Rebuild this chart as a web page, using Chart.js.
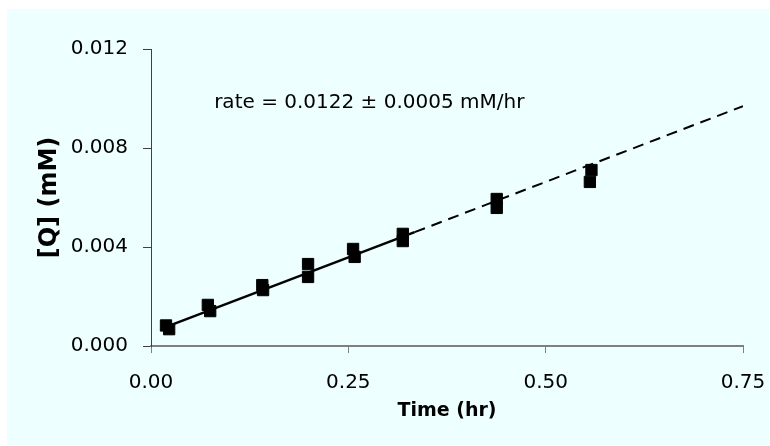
<!DOCTYPE html>
<html>
<head>
<meta charset="utf-8">
<script src="https://cdn.jsdelivr.net/npm/chart.js@4/dist/chart.umd.min.js"></script>
<style>
  html, body { margin: 0; padding: 0; background: #ffffff; }
  #bg { position: absolute; left: 7px; top: 9px; width: 763px; height: 437px; background: #eeffff; }
  #c { position: absolute; left: 0; top: 0; }
</style>
</head>
<body>
<div id="bg"></div>
<canvas id="c" width="770" height="446"></canvas>
<script>
// Replicate A (upper markers) and replicate B (lower markers)
const timesA  = [0.019, 0.072, 0.141, 0.199, 0.256, 0.319, 0.438, 0.558];
const valuesA = [0.00083, 0.00166, 0.00246, 0.00331, 0.00392, 0.00453, 0.00594, 0.00711];
const timesB  = [0.023, 0.075, 0.142, 0.199, 0.258, 0.319, 0.438, 0.556];
const valuesB = [0.00068, 0.00141, 0.00226, 0.00279, 0.00360, 0.00424, 0.00558, 0.00663];

// Fitted rate line (solid over fitted range, dashed extension)
const fitX = [0.02, 0.334];
const fitY = [0.00078, 0.00460];
const extX = [0.334, 0.75];
const extY = [0.00460, 0.00969];

const xTicks = [0, 0.25, 0.5, 0.75];
const yTicks = [0, 0.004, 0.008, 0.012];

const annotationText = 'rate = 0.0122 \u00b1 0.0005 mM/hr';
const annotationAt = [0.08, 0.00962];

const toPts = (xs, ys) => xs.map((x, i) => ({x: x, y: ys[i]}));

const annotate = {
  id: 'annotate',
  afterDatasetsDraw(chart) {
    const {ctx, scales: {x, y}} = chart;
    ctx.save();
    ctx.font = '20px "DejaVu Sans"';
    ctx.fillStyle = '#000';
    ctx.textAlign = 'left';
    ctx.textBaseline = 'alphabetic';
    ctx.fillText(annotationText, x.getPixelForValue(annotationAt[0]), y.getPixelForValue(annotationAt[1]));
    ctx.restore();
  }
};

new Chart(document.getElementById('c'), {
  type: 'scatter',
  data: {
    datasets: [
      { data: toPts(fitX, fitY), showLine: true, borderColor: '#000', borderWidth: 2.5, pointRadius: 0, pointHoverRadius: 0 },
      { data: toPts(extX, extY), showLine: true, borderColor: '#000', borderWidth: 2, borderDash: [11, 7], pointRadius: 0, pointHoverRadius: 0 },
      { data: toPts(timesA, valuesA), pointStyle: 'rect', pointRadius: 8, backgroundColor: '#000', borderColor: '#000', borderWidth: 1 },
      { data: toPts(timesB, valuesB), pointStyle: 'rect', pointRadius: 8, backgroundColor: '#000', borderColor: '#000', borderWidth: 1 }
    ]
  },
  options: {
    responsive: false,
    animation: false,
    devicePixelRatio: 1,
    plugins: { legend: { display: false }, tooltip: { enabled: false } },
    layout: { padding: { left: 0, right: 27, top: 49, bottom: 0 } },
    scales: {
      x: {
        type: 'linear', min: 0, max: 0.75,
        afterBuildTicks: (s) => { s.ticks = xTicks.map(v => ({value: v})); },
        afterFit: (s) => { s.height = 100; s.paddingLeft = 0; s.paddingRight = 0; },
        ticks: { color: '#000', font: { family: 'DejaVu Sans', size: 20 }, padding: 18, maxRotation: 0,
                 callback: (v) => Number(v).toFixed(2) },
        grid: { drawOnChartArea: false, drawTicks: true, tickLength: 7, color: '#7f7f7f', lineWidth: 1 },
        border: { display: true, color: '#7f7f7f', width: 2 },
        title: { display: true, text: 'Time (hr)', color: '#000', font: { family: 'DejaVu Sans', size: 19, weight: 'bold' }, padding: { top: 0, bottom: 24 } }
      },
      y: {
        type: 'linear', min: 0, max: 0.012,
        afterBuildTicks: (s) => { s.ticks = yTicks.map(v => ({value: v})); },
        afterFit: (s) => { s.width = 151; s.paddingTop = 0; s.paddingBottom = 0; },
        ticks: { color: '#000', font: { family: 'DejaVu Sans', size: 20 }, padding: 15,
                 callback: (v) => Number(v).toFixed(3) },
        grid: { drawOnChartArea: false, drawTicks: true, tickLength: 8, color: '#404040', lineWidth: 1 },
        border: { display: true, color: '#404040', width: 1 },
        title: { display: true, text: '[Q] (mM)', color: '#000', font: { family: 'DejaVu Sans', size: 24, weight: 'bold' }, padding: { top: 35, bottom: 0 } }
      }
    }
  },
  plugins: [annotate]
});
</script>
</body>
</html>
